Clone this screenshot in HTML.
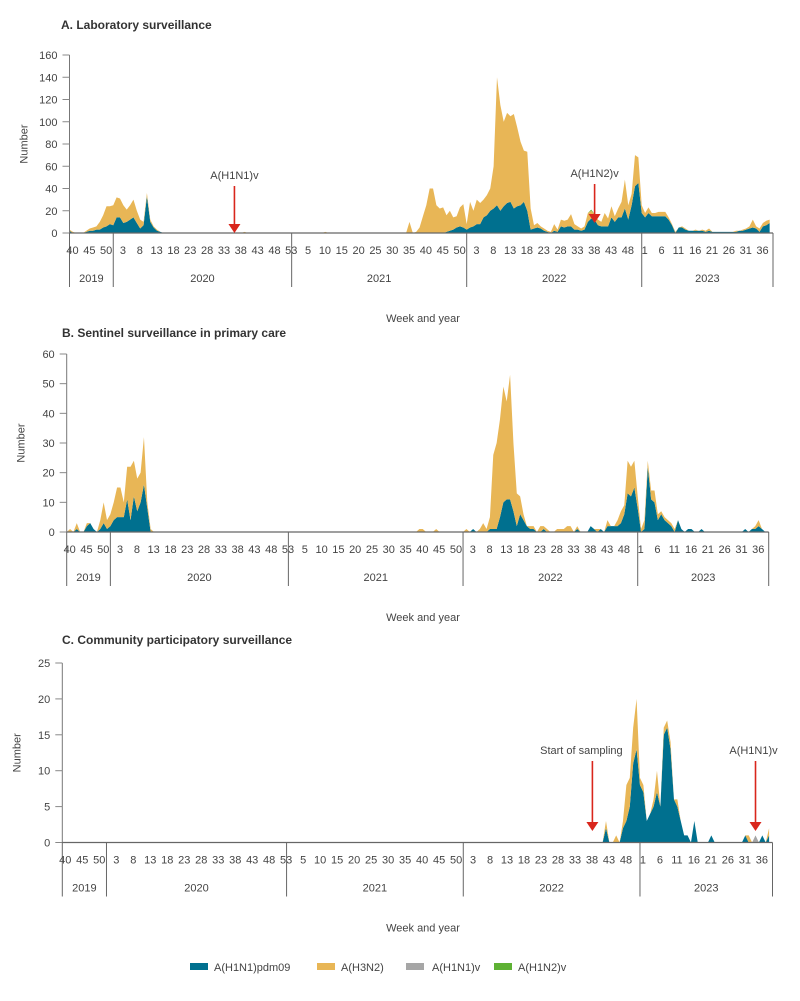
<!DOCTYPE html>
<html><head><meta charset="utf-8">
<style>
html,body{margin:0;padding:0;background:#fff;}
svg{display:block;font-family:"Liberation Sans",sans-serif;}
.t{font-size:11px;fill:#444;}
.ti{font-size:12px;font-weight:bold;fill:#333;}
</style></head>
<body>
<svg id="chart" width="800" height="1001" viewBox="0 0 800 1001" xmlns="http://www.w3.org/2000/svg">
<text class="ti" x="61" y="29">A. Laboratory surveillance</text>
<text class="ti" x="62" y="337">B. Sentinel surveillance in primary care</text>
<text class="ti" x="62" y="644">C. Community participatory surveillance</text>
<g id="legend">
<rect x="190" y="963" width="18" height="7" fill="#00708f"/>
<text class="t" x="214" y="971">A(H1N1)pdm09</text>
<rect x="317" y="963" width="18" height="7" fill="#e8b656"/>
<text class="t" x="341" y="971">A(H3N2)</text>
<rect x="406" y="963" width="18" height="7" fill="#a6a6a6"/>
<text class="t" x="432" y="971">A(H1N1)v</text>
<rect x="494" y="963" width="18" height="7" fill="#5eb134"/>
<text class="t" x="518" y="971">A(H1N2)v</text>
</g>
</svg>
<script>
// ---- categories / tick labels ----
const years = ["2019","2020","2021","2022","2023"];
const yearWeeks = [13,53,52,52,39];
const yearFirstWeek = [40,1,1,1,1];
const weekTicks2019 = [40,45,50];
const weekTicks2020 = [3,8,13,18,23,28,33,38,43,48,53];
const weekTicks2021 = [5,10,15,20,25,30,35,40,45,50];
const weekTicks2022 = [3,8,13,18,23,28,33,38,43,48];
const weekTicks2023 = [1,6,11,16,21,26,31,36];
const ticksA = [0,20,40,60,80,100,120,140,160];
const ticksB = [0,10,20,30,40,50,60];
const ticksC = [0,5,10,15,20,25];

// ---- Data: segments [yearIndex, startWeek, weekly values]; weeks not listed are 0 ----
// Panel A: laboratory surveillance
const aBlueSeg = [
 [0,40,[2,0,0,0,0,1,2,2,3,3,5,6,8]],
 [1,1,[7,14,14,9,10,12,14,9,4,7,33,10,5,2,1]],
 [2,47,[1,2,3,5,6,5]],
 [3,1,[3,5,6,8,8,14,16,20,22,25,20,24,27,28,22,24,25,28,20,3,4,5,4,2,1,0,2,1,6,5,6,6,3,3,2,3,10,13,12,7,6,6,6,14,10,14,14,22,12,25,42,45]],
 [4,1,[18,14,18,15,15,15,15,15,12,7,0,5,5,3,2,2,2,2,2,1,2,1,1,1,1,1,1,1,1,2,2,3,4,5,4,1,6,7,9]]
];
const aH3Seg = [
 [0,40,[1,1,0,0,0,1,2,3,3,7,11,18,16]],
 [1,1,[18,18,17,16,11,13,16,11,8,3,3,2,1,1,0]],
 [1,40,[1]],
 [2,11,[1]],
 [2,36,[10,0,1,5,15,25,40,40,25,22,23,15,18,11,10,17,21]],
 [3,1,[5,23,14,22,19,16,18,20,38,115,95,76,81,77,85,71,57,46,53,19,3,4,2,2,1,1,6,2,6,6,6,11,5,3,2,3,8,7,5,5,4,12,7,10,5,8,14,26,13,10,28,23]],
 [4,1,[7,4,5,3,3,4,4,4,2,1,1,0,1,1,0,0,1,0,1,1,2,0,0,0,0,0,0,0,1,0,1,1,2,7,2,3,3,4,3]]
];
const aH1N1vSeg = [];
const aH1N2vSeg = [[3,38,[1]]];

// Panel B: sentinel primary care
const bBlueSeg = [
 [0,40,[0,0,0,1,0,0,2,3,1,0,1,3,1]],
 [1,1,[2,4,5,5,5,11,4,12,7,10,16,8,0]],
 [3,1,[0,0,0,1,0,0,0,0,1,1,1,5,10,11,11,7,2,6,4,2,1,1,0,0,1,0,0,0,0,0,0,0,0,0,1,0,0,0,2,1,0,1,0,2,2,2,2,3,6,13,12,15]],
 [4,1,[8,0,1,22,11,10,4,6,4,3,2,0,4,1,0,1,1,0,0,1]],
 [4,33,[1,0,1,1,2,1,0]]
];
const bH3Seg = [
 [0,40,[0,1,0,2,0,0,1,0,0,0,3,7,3]],
 [1,1,[4,6,10,10,5,11,18,12,11,10,16,2,1]],
 [2,40,[1,1,0,0,0,1]],
 [3,1,[0,1,0,0,0,1,3,1,4,25,29,33,39,33,42,23,11,6,2,0,1,1,0,2,1,1,0,0,1,1,1,2,2,0,1,0,0,0,0,0,1,0,0,2,0,0,2,4,3,11,10,9]],
 [4,1,[4,1,3,2,3,4,2,1,1,1,1,1]],
 [4,36,[1,2]]
];
const bH1N1vSeg = [];
const bH1N2vSeg = [];

// Panel C: community participatory
const cBlueSeg = [
 [3,43,[2,0,0,0,0,2,3,5,11,13]],
 [4,1,[8,7,3,4,5,7,5,15,16,13,6,5,3,1,1,0,3,0,0,0,0,1]],
 [4,32,[1,0,0,0,0,1,0,1]]
];
const cH3Seg = [
 [3,43,[1,0,0,1,0,1,5,4,5,7]],
 [4,1,[1,1,0,0,1,3,0,1,1,1,0,1]],
 [4,33,[1]],
 [4,39,[1]]
];
const cH1N1vSeg = [[4,35,[1]]];
const cH1N2vSeg = [];

const NS = "http://www.w3.org/2000/svg";
const svg = document.getElementById('chart');
const COLORS = ["#00708f","#e8b656","#a6a6a6","#5eb134"];
const SERIES_NAMES = ["h1n1pdm09","h3n2","h1n1v","h1n2v"];
const weekTickLists = [weekTicks2019,weekTicks2020,weekTicks2021,weekTicks2022,weekTicks2023];
const yearStart = [];
{ let s = 0; yearWeeks.forEach(w => { yearStart.push(s); s += w; }); }
const N = yearStart[4] + yearWeeks[4];

function build(segs){
  const out = new Array(N).fill(0);
  segs.forEach(([yi, sw, vals]) => {
    vals.forEach((v, k) => {
      const off = sw - yearFirstWeek[yi] + k;
      if (off >= 0 && off < yearWeeks[yi]) out[yearStart[yi] + off] = Number(v) || 0;
    });
  });
  return out;
}

function mk(tag, attrs, parent){
  const e = document.createElementNS(NS, tag);
  for (const k in attrs) e.setAttribute(k, attrs[k]);
  (parent||svg).appendChild(e);
  return e;
}

function drawPanel(p){
  const g = mk('g', {});
  
  
  const n = N;
  const step = (p.x1 - p.x0) / n;
  const xS = i => p.x0 + i * step;
  const yS = v => p.base - v / p.max * (p.base - p.top);
  let lower = new Array(n).fill(0);
  p.series.forEach((arr, si) => {
    const upper = lower.map((l, i) => l + arr[i]);
    let d = '';
    for (let i = 0; i < n; i++) d += (i ? 'L' : 'M') + xS(i).toFixed(2) + ',' + yS(upper[i]).toFixed(2);
    for (let i = n - 1; i >= 0; i--) d += 'L' + xS(i).toFixed(2) + ',' + yS(lower[i]).toFixed(2);
    d += 'Z';
    const path = mk('path', {d: d, fill: COLORS[si], stroke: 'none'}, g);
    
    
    lower = upper;
  });
  const ya = mk('line', {x1: p.x0, y1: p.top, x2: p.x0, y2: p.base, stroke: '#777', 'stroke-width': 1}, g);
  
  
  p.ticks.forEach(t => {
    const y = yS(t);
    mk('line', {x1: p.x0 - 7, y1: y, x2: p.x0, y2: y, stroke: '#888', 'stroke-width': 1}, g);
    const tx = mk('text', {x: p.x0 - 12, y: y + 4, 'text-anchor': 'end', class: 't'}, g);
    tx.textContent = t;
    
    
  });
  const yt = mk('text', {x: 0, y: 0, class: 't', 'text-anchor': 'middle', transform: 'translate(' + (p.x0 - 42) + ',' + ((p.top + p.base) / 2) + ') rotate(-90)'}, g);
  yt.textContent = 'Number';
  
  
  const xa = mk('line', {x1: p.x0, y1: p.base, x2: p.x1, y2: p.base, stroke: '#666', 'stroke-width': 1.2}, g);
  
  
  mk('line', {x1: p.x0, y1: p.base, x2: p.x0, y2: p.base + 54, stroke: '#666', 'stroke-width': 1}, g);
  years.forEach((yr, yi) => {
    const start = yearStart[yi], end = start + yearWeeks[yi];
    weekTickLists[yi].forEach(w => {
      const i = start + (w - yearFirstWeek[yi]);
      const tx = mk('text', {x: xS(i) + 3, y: p.base + 21, 'text-anchor': 'middle', class: 't'}, g);
      tx.textContent = w;
      
      
    });
    const yl = mk('text', {x: (xS(start) + xS(end)) / 2, y: p.base + 49, 'text-anchor': 'middle', class: 't'}, g);
    yl.textContent = yr;
    
    
    const sep = mk('line', {x1: xS(end), y1: p.base, x2: xS(end), y2: p.base + 54, stroke: '#666', 'stroke-width': 1}, g);
    
    
  });
  const xt = mk('text', {x: 423, y: p.base + 89, 'text-anchor': 'middle', class: 't'}, g);
  xt.textContent = 'Week and year';
  
  
  p.notes.forEach(a => {
    const x = xS(a.i);
    const ag = mk('g', {}, g);
    
    
    mk('line', {x1: x, y1: a.y1, x2: x, y2: a.y2 - 8, stroke: '#d9261c', 'stroke-width': 1.6}, ag);
    mk('polygon', {points: (x - 6) + ',' + (a.y2 - 9) + ' ' + (x + 6) + ',' + (a.y2 - 9) + ' ' + x + ',' + a.y2, fill: '#d9261c'}, ag);
    const lt = mk('text', {x: x + (a.dx || 0), y: a.y1 - 7, 'text-anchor': 'middle', class: 't'}, ag);
    lt.textContent = a.label;
  });
}

drawPanel({id: 'a', x0: 69.5, x1: 773, base: 233, top: 55, max: 160, ticks: ticksA,
  series: [build(aBlueSeg), build(aH3Seg), build(aH1N1vSeg), build(aH1N2vSeg)],
  notes: [{i: 49, y1: 186, y2: 233, label: 'A(H1N1)v'}, {i: 156, y1: 184, y2: 223, label: 'A(H1N2)v'}]});
drawPanel({id: 'b', x0: 66.7, x1: 768.7, base: 532, top: 354, max: 60, ticks: ticksB,
  series: [build(bBlueSeg), build(bH3Seg), build(bH1N1vSeg), build(bH1N2vSeg)], notes: []});
drawPanel({id: 'c', x0: 62.3, x1: 772.5, base: 842.5, top: 663, max: 25, ticks: ticksC,
  series: [build(cBlueSeg), build(cH3Seg), build(cH1N1vSeg), build(cH1N2vSeg)],
  notes: [{i: 156, y1: 761, y2: 831, label: 'Start of sampling', dx: -11}, {i: 204, y1: 761, y2: 831, label: 'A(H1N1)v', dx: -2}]});
</script>
</body></html>
